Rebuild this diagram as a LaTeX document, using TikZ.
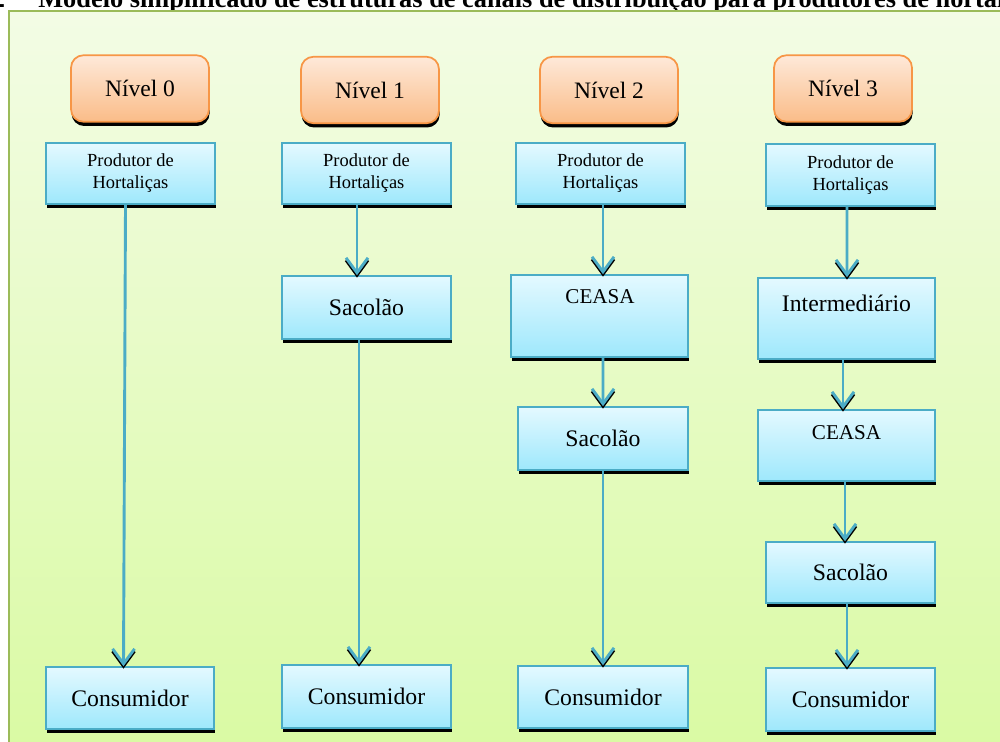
\documentclass[tikz,border=0pt]{standalone}
\usepackage{fontspec}
\setmainfont{Liberation Serif}
\usetikzlibrary{arrows.meta,shadows,calc}
\definecolor{frameline}{RGB}{155,187,89}
\definecolor{bgtop}{RGB}{243,252,229}
\definecolor{bgbot}{RGB}{217,250,162}
\definecolor{orline}{RGB}{247,150,70}
\definecolor{ortop}{RGB}{254,233,217}
\definecolor{orbot}{RGB}{250,188,136}
\definecolor{blline}{RGB}{75,172,198}
\definecolor{bltop}{RGB}{228,249,255}
\definecolor{blbot}{RGB}{158,232,252}
\tikzset{
  shad/.style={drop shadow={shadow xshift=0.012cm, shadow yshift=-0.085cm, opacity=1, fill=black}},
  lvl/.style={shad, draw=orline, line width=0.035cm, rounded corners=0.25cm,
    top color=ortop, bottom color=orbot, minimum width=2.76cm, minimum height=1.33cm,
    inner sep=0pt, font=\fontsize{13.4pt}{16pt}\selectfont},
  bbox/.style={shad, draw=blline, line width=0.03cm, top color=bltop, bottom color=blbot,
    inner sep=0pt, align=center, font=\fontsize{13.5pt}{16pt}\selectfont},
  prod/.style={bbox, font=\fontsize{10.5pt}{12.6pt}\selectfont},
  tx/.style={inner sep=0pt, font=\fontsize{13.5pt}{16pt}\selectfont},
  conn/.style={draw=blline, line width=0.058cm, -{Straight Barb[length=0.3cm, width=0.44cm]}},
  connsh/.style={draw=black, line width=0.058cm, -{Straight Barb[length=0.3cm, width=0.44cm]}}
}
% connector: black shadow under the arrowhead only, then the blue arrow
\newcommand\conn[4]{%
  \draw[connsh] ($(#3.north)+(#4,-9)$) -- ($(#3.north)+(#4,2.4)$);
  \draw[conn] ($(#1.south)+(#2,0)$) -- ($(#3.north)+(#4,0)$);}
\begin{document}
\begin{tikzpicture}[x=0.02cm, y=-0.02cm]
\useasboundingbox (0,0) rectangle (1000,742);
% title (cut by the page edge, as in the reference)
\node[anchor=base west, inner sep=0pt, font=\bfseries\fontsize{15pt}{18pt}\selectfont] (title) at (38,7.5)
  {Modelo simplificado de estruturas de canais de distribuição para produtores de hortaliças};
\node[anchor=base east, inner sep=0pt, font=\bfseries\fontsize{15pt}{18pt}\selectfont] (fignum) at (5.5,7.5) {2};
% frame
\draw[frameline, line width=0.035cm, top color=bgtop, bottom color=bgbot] (9,11) rectangle (1015,765);
% level headers
\node[lvl] (n0) at (140,88.5) {Nível 0};
\node[lvl] (n1) at (370,90) {Nível 1};
\node[lvl] (n2) at (609,90) {Nível 2};
\node[lvl] (n3) at (843,88.5) {Nível 3};
% level 0
\node[prod, minimum width=3.38cm, minimum height=1.22cm] (p0) at (130.5,173.5) {Produtor de\\Hortaliças};
\node[bbox, minimum width=3.36cm, minimum height=1.24cm] (c0) at (130,698) {Consumidor};
% level 1
\node[prod, minimum width=3.38cm, minimum height=1.22cm] (p1) at (366.5,173.5) {Produtor de\\Hortaliças};
\node[bbox, minimum width=3.38cm, minimum height=1.26cm] (s1) at (366.5,307.5) {Sacolão};
\node[bbox, minimum width=3.38cm, minimum height=1.26cm] (c1) at (366.5,696.5) {Consumidor};
% level 2
\node[prod, minimum width=3.38cm, minimum height=1.22cm] (p2) at (600.5,173.5) {Produtor de\\Hortaliças};
\node[bbox, minimum width=3.54cm, minimum height=1.64cm] (e2) at (599.5,316) {};
\node[tx, font=\fontsize{12pt}{14pt}\selectfont] (e2t) at (600,297) {CEASA};
\node[bbox, minimum width=3.40cm, minimum height=1.26cm] (s2) at (603,438.5) {Sacolão};
\node[bbox, minimum width=3.40cm, minimum height=1.24cm] (c2) at (603,697) {Consumidor};
% level 3
\node[prod, minimum width=3.38cm, minimum height=1.24cm] (p3) at (850.5,175) {Produtor de\\Hortaliças};
\node[bbox, minimum width=3.54cm, minimum height=1.62cm] (i3) at (846.5,318.5) {};
\node[tx] (i3t) at (846.5,303) {Intermediário};
\node[bbox, minimum width=3.54cm, minimum height=1.42cm] (e3) at (846.5,445.5) {};
\node[tx, font=\fontsize{12pt}{14pt}\selectfont] (e3t) at (846.5,433) {CEASA};
\node[bbox, minimum width=3.38cm, minimum height=1.22cm] (s3) at (850.5,572.5) {Sacolão};
\node[bbox, minimum width=3.38cm, minimum height=1.26cm] (c3) at (850.5,699.5) {Consumidor};
% connectors
\conn{p0}{-5}{c0}{-6.5}
\conn{p1}{-9.5}{s1}{-9.5}
\conn{s1}{-7.5}{c1}{-7.5}
\conn{p2}{2.5}{e2}{3.5}
\conn{e2}{3.5}{s2}{0}
\conn{s2}{0}{c2}{0}
\conn{p3}{-3.5}{i3}{0.5}
\conn{i3}{-3.5}{e3}{-3.5}
\conn{e3}{-1.5}{s3}{-5.5}
\conn{s3}{-3.5}{c3}{-3.5}
\end{tikzpicture}
\end{document}
